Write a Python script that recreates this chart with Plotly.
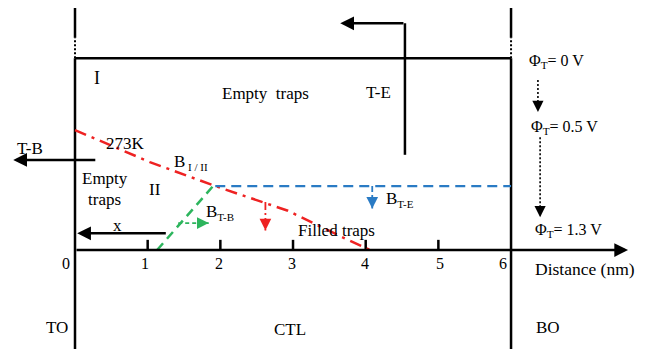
import plotly.graph_objects as go

# ---- data (x in nm, y in same length units; axis line at y=0) ----
box_top = 2.64
box_left, box_right = 0.0, 6.0
box_bottom = -1.362
stub_dot_top = 2.92
stub_solid_top = 3.33
axis_end = 7.61

tick_vals = [1, 2, 3, 4, 5]
tick_len = 0.14
tick_labels = ["0", "1", "2", "3", "4", "5", "6"]
tick_label_x = [-0.12, 0.96, 1.98, 2.98, 3.99, 5.02, 5.89]

# boundary curves
red_x = [0.0, 1.03, 1.93, 2.93, 3.65, 4.08]
red_y = [1.65, 1.21, 0.88, 0.54, 0.19, -0.01]
blue_x = [1.93, 6.0]
blue_y = [0.88, 0.88]
green_x = [1.13, 1.90]
green_y = [0.0, 0.88]

# arrows: (x_from, y_from, x_to, y_to)
green_arrow = (1.42, 0.37, 1.84, 0.37)
red_arrow = (2.62, 0.66, 2.62, 0.27)
blue_arrow = (4.09, 0.88, 4.09, 0.57)
x_arrow = (1.27, 0.23, 0.03, 0.23)
tb_arrow = (0.30, 1.24, -0.85, 1.24)
te_vert = (4.54, 1.31, 4.54, 3.12)
te_arrow = (4.54, 3.12, 3.65, 3.12)
phi_arrow1 = (6.37, 2.34, 6.37, 1.90)
phi_arrow2 = (6.40, 1.55, 6.40, 0.45)

fig = go.Figure()

def line(xs, ys, color="black", width=2.5, dash="solid"):
    fig.add_trace(go.Scatter(x=xs, y=ys, mode="lines",
                             line=dict(color=color, width=width, dash=dash),
                             hoverinfo="skip", showlegend=False))

def arrow(a, color="black", width=2.5, dash="solid", head=1.2):
    x0, y0, x1, y1 = a
    if dash == "solid":
        fig.add_annotation(x=x1, y=y1, ax=x0, ay=y0, xref="x", yref="y",
                           axref="x", ayref="y", text="", showarrow=True,
                           arrowhead=2, arrowsize=head, arrowwidth=width,
                           arrowcolor=color, standoff=0, startstandoff=0)
    else:
        line([x0, x1], [y0, y1], color=color, width=width, dash=dash)
        dx, dy = x1 - x0, y1 - y0
        n = (dx * dx + dy * dy) ** 0.5
        fig.add_annotation(x=x1, y=y1, ax=-dx / n * 6, ay=dy / n * 6,
                           xref="x", yref="y", text="", showarrow=True,
                           arrowhead=2, arrowsize=head, arrowwidth=width,
                           arrowcolor=color, standoff=0)

# box / frame lines
line([box_left, box_right], [box_top, box_top])
for xv in (box_left, box_right):
    line([xv, xv], [box_bottom, box_top])
    line([xv, xv], [box_top, stub_dot_top], width=2, dash="2px,2px")
    line([xv, xv], [stub_dot_top, stub_solid_top])
# distance axis with arrow
arrow((0.0, 0.0, axis_end, 0.0), head=1.1)
for t in tick_vals:
    line([t, t], [0, tick_len])

# boundaries
line(red_x, red_y, color="#ee2222", width=2.5, dash="12px,6px,3px,6px")
line(blue_x, blue_y, color="#2a7bc4", width=2.2, dash="10px,6px")
line(green_x, green_y, color="#2db55d", width=2.5, dash="9px,6px")

# arrows
arrow(green_arrow, color="#2db55d", width=1.8, dash="4px,3px", head=1.3)
arrow(red_arrow, color="#ee2222", width=1.8, dash="8px,3px,2px,3px", head=1.3)
arrow(blue_arrow, color="#2a7bc4", width=1.8, dash="6px,3px", head=1.3)
arrow(x_arrow, head=1.1)
arrow(tb_arrow, head=1.1)
line([te_vert[0], te_vert[2]], [te_vert[1], te_vert[3]])
arrow(te_arrow, head=1.1)
arrow(phi_arrow1, width=1.6, dash="2px,2px", head=1.4)
arrow(phi_arrow2, width=1.6, dash="2px,2px", head=1.4)

FONT = "Liberation Serif, Times New Roman, serif"

def text(t, x, y, size=16, xanchor="center"):
    fig.add_annotation(x=x, y=y, xref="x", yref="y", text=t, showarrow=False,
                       xanchor=xanchor, yanchor="middle",
                       font=dict(family=FONT, size=size, color="black"))

text("I", 0.30, 2.37, 18)
text("Empty  traps", 2.62, 2.16, 17)
text("T-E", 4.17, 2.17, 17)
text("273K", 0.69, 1.47, 17)
text("T-B", -0.62, 1.40, 17)
text("B<sub><span style='font-size:11px'> I / II</span></sub>", 1.60, 1.20, 17)
text("Empty", 0.41, 0.99, 17)
text("traps", 0.41, 0.69, 17)
text("II", 1.10, 0.83, 17)
text("B<sub><span style='font-size:11px'>T-B</span></sub>", 2.0, 0.52, 17)
text("x", 0.58, 0.34, 17)
text("B<sub><span style='font-size:11px'>T-E</span></sub>", 4.47, 0.69, 17)
text("Filled traps", 3.60, 0.27, 17)
for lab, xv in zip(tick_labels, tick_label_x):
    text(lab, xv, -0.18, 16)
text("Distance (nm)", 7.02, -0.26, 17.5)
text("TO", -0.25, -1.06, 17)
text("CTL", 2.96, -1.10, 17)
text("BO", 6.51, -1.06, 17)
text("Φ<sub>T</sub>= 0 V", 6.22, 2.59, 16, "left")
text("Φ<sub>T</sub>= 0.5 V", 6.25, 1.68, 16, "left")
text("Φ<sub>T</sub>= 1.3 V", 6.30, 0.27, 16, "left")

fig.update_layout(
    width=646, height=349,
    margin=dict(l=0, r=0, t=0, b=0),
    paper_bgcolor="white", plot_bgcolor="white",
    font=dict(family=FONT),
    xaxis=dict(range=[-1.032, 7.857], visible=False, fixedrange=True),
    yaxis=dict(range=[-1.362, 3.440], visible=False, fixedrange=True),
    showlegend=False,
)
fig.write_html("out.html", config={"displayModeBar": False},
               post_script="document.body.style.margin='0';")
